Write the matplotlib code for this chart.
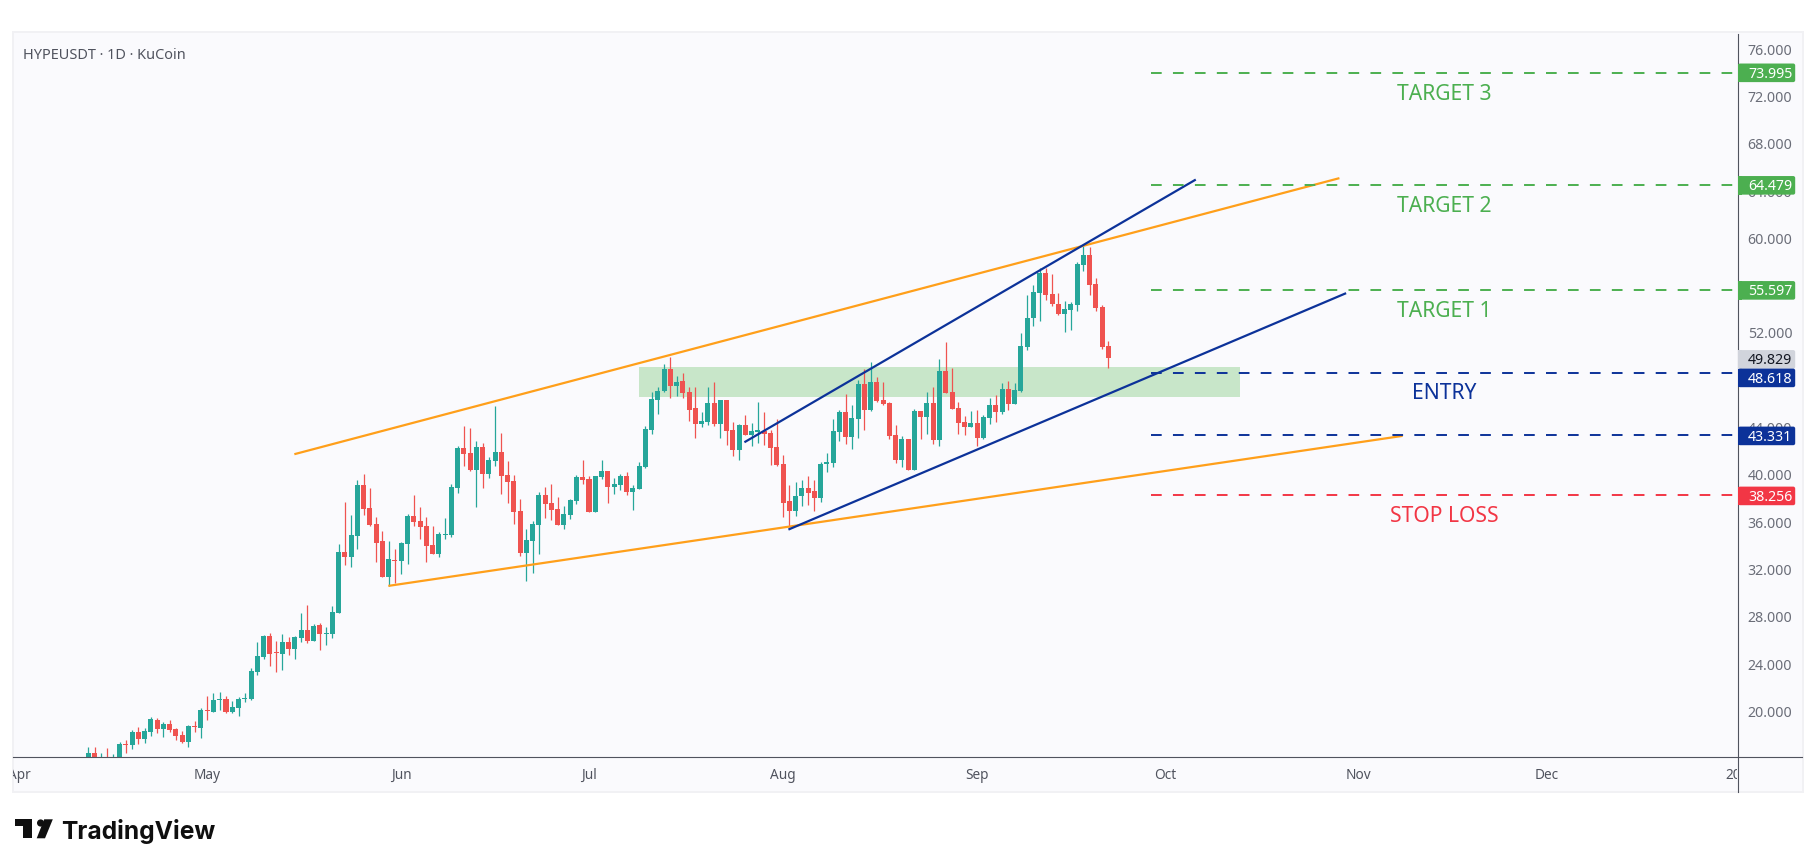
import numpy as np
import matplotlib
matplotlib.use("Agg")
import matplotlib.pyplot as plt
from matplotlib.patches import Rectangle, FancyBboxPatch, Polygon, Circle
from matplotlib.lines import Line2D

plt.rcParams['lines.scale_dashes'] = False
FONT = 'Noto Sans'
plt.rcParams['font.family'] = [FONT, 'DejaVu Sans']

# ---------- data ----------
first_day = 11  # days since 1 April (12 April)
opens = [
 15.9,16.49,15.6,15.9,15.6,15.6,17.25,17.16,18.26,17.67,
 18.26,19.28,18.52,18.94,18.52,18.01,17.42,18.77,18.60,20.12,
 19.95,21.00,21.05,19.95,20.29,21.09,21.05,23.34,24.60,26.38,
 25.03,24.86,25.87,25.28,26.21,26.89,25.96,27.31,26.58,26.55,
 28.32,33.48,33.06,34.83,39.15,37.20,35.85,34.41,31.37,32.80,
 32.72,34.16,36.52,36.10,35.68,34.07,33.31,34.92,34.92,38.89,
 42.27,41.85,40.41,42.35,40.07,41.17,41.93,39.99,39.48,36.94,
 33.39,34.41,35.76,38.30,37.62,37.11,35.76,36.60,37.79,39.82,
 39.65,36.86,39.82,40.33,38.97,39.14,39.90,38.55,38.80,40.66,
 43.79,46.33,47.09,48.95,47.51,47.93,47.00,45.65,44.30,44.47,
 46.07,44.30,46.33,43.79,42.10,44.21,43.37,43.62,43.71,43.54,
 42.35,40.92,37.79,36.94,38.21,38.89,38.63,38.04,40.92,41.00,
 43.62,45.31,43.20,44.72,47.68,45.48,47.85,46.33,46.07,43.37,
 41.26,43.03,40.41,45.40,44.89,46.07,42.95,48.78,47.00,45.65,
 44.47,44.05,44.38,43.12,44.81,45.91,45.31,47.26,45.99,47.09,
 50.81,53.26,55.37,57.06,55.29,54.44,53.60,53.94,54.36,57.74,
 58.59,56.13,54.19,50.89]
closes = [
 16.49,15.7,15.8,15.6,15.9,17.25,17.20,18.26,17.67,18.35,
 19.36,18.52,18.94,18.43,17.93,17.42,18.77,18.72,20.12,20.07,
 20.97,21.05,19.95,20.38,21.05,21.14,23.42,24.69,26.38,24.86,
 24.98,25.87,25.28,26.30,26.89,25.96,27.22,26.55,26.63,28.41,
 33.48,33.06,34.92,39.15,37.12,35.76,34.24,31.37,32.89,32.72,
 34.24,36.52,36.02,35.59,33.99,33.31,35.00,34.97,38.98,42.27,
 41.76,40.41,42.35,40.07,41.25,41.93,39.90,39.39,36.86,33.39,
 34.49,35.84,38.30,37.53,37.03,35.76,36.69,37.87,39.82,39.56,
 36.86,39.90,40.33,38.97,39.23,39.90,38.55,38.89,40.75,43.87,
 46.41,47.09,48.95,47.51,47.85,46.92,45.48,44.30,44.55,46.07,
 44.30,46.33,43.71,42.10,44.21,43.37,43.71,43.79,43.45,42.27,
 40.83,37.62,36.94,38.21,38.89,38.47,38.04,40.92,41.09,43.71,
 45.31,43.20,44.81,47.68,45.48,47.85,46.24,45.99,43.28,41.26,
 43.03,40.41,45.40,44.89,46.07,42.95,48.78,46.92,45.57,44.38,
 44.05,44.38,43.12,44.89,45.91,45.31,47.26,45.99,47.17,50.89,
 53.26,55.46,57.06,55.20,54.44,53.60,54.02,54.44,57.83,58.59,
 56.05,54.11,50.81,49.83]
highs = [
 17.00,17.00,16.49,16.91,16.40,17.42,17.59,18.43,18.69,18.60,
 19.53,19.45,19.11,19.28,18.60,18.35,18.86,19.19,20.29,21.31,
 21.56,21.65,21.31,20.88,21.22,21.56,23.67,25.87,26.46,26.63,
 25.96,26.55,26.30,26.38,28.32,29.00,27.39,27.48,27.14,28.92,
 34.16,37.71,36.61,39.57,40.07,38.89,36.44,35.26,34.41,33.73,
 34.33,36.69,38.30,37.29,36.44,35.68,35.17,36.35,39.23,42.44,
 44.13,43.96,42.86,42.69,41.51,45.82,43.54,41.17,39.99,37.96,
 35.42,36.10,38.55,38.97,39.23,38.13,37.37,37.96,39.99,41.25,
 39.90,39.90,41.25,40.33,39.73,40.07,40.24,39.14,41.09,44.13,
 47.00,47.43,49.37,49.96,48.36,48.61,47.43,47.43,45.31,47.43,
 47.85,46.33,46.33,44.47,44.30,45.06,44.38,46.16,45.31,43.79,
 44.72,41.68,39.14,39.39,39.56,39.90,39.56,41.09,41.85,44.72,
 45.48,46.84,45.91,48.02,48.95,49.54,48.27,47.85,46.16,44.21,
 43.28,43.03,45.57,45.40,47.00,47.43,49.79,51.23,49.03,46.16,
 44.98,45.40,45.48,45.06,46.50,46.75,47.77,47.93,47.77,51.99,
 55.20,56.05,57.49,57.49,56.98,55.37,54.70,54.61,57.99,59.35,
 59.26,56.64,54.36,51.32]
lows = [
 15.5,15.4,15.3,15.2,15.3,15.4,16.49,16.83,17.25,17.33,
 17.93,18.18,17.84,18.26,17.59,17.33,17.00,18.26,17.76,19.28,
 19.95,20.12,19.87,19.87,19.62,20.80,20.97,23.08,24.43,23.84,
 23.34,23.51,24.77,24.43,25.87,25.79,25.96,25.20,25.62,26.21,
 28.32,32.38,32.21,33.73,36.61,35.68,32.64,31.37,30.61,30.86,
 31.62,32.47,35.68,34.58,32.64,33.31,33.06,34.58,34.75,38.47,
 40.75,40.33,37.28,38.89,39.73,40.75,38.38,37.62,35.84,33.14,
 31.03,31.70,33.31,36.35,36.18,35.76,35.42,36.27,37.53,39.23,
 36.86,36.86,39.65,37.62,38.38,38.72,38.30,37.03,38.80,40.58,
 43.45,45.14,47.00,46.50,46.66,46.50,44.55,43.11,44.04,44.21,
 44.13,43.11,42.52,41.59,41.25,43.37,42.44,42.69,42.52,40.83,
 40.75,36.44,35.59,36.52,37.37,37.45,36.94,37.70,40.24,40.66,
 42.86,42.61,42.19,43.12,43.79,45.40,46.16,45.91,43.03,41.00,
 40.66,40.41,40.41,43.03,43.45,42.61,42.44,46.92,45.57,43.45,
 43.37,44.05,42.44,43.03,44.30,44.47,45.14,45.48,45.99,47.00,
 50.56,52.58,53.01,54.78,54.27,53.51,52.08,52.25,53.85,57.23,
 55.20,53.85,50.64,49.03]

month_days = [0, 30, 61, 91, 122, 153, 183, 214, 244, 275]
month_labels = ['Apr', 'May', 'Jun', 'Jul', 'Aug', 'Sep', 'Oct', 'Nov', 'Dec', '2026']
price_ticks = [20, 24, 28, 32, 36, 40, 44, 48, 52, 56, 60, 64, 68, 72, 76]

level_prices = [73.995, 64.479, 55.597, 48.618, 43.331, 38.256]
level_names = ['TARGET 3', 'TARGET 2', 'TARGET 1', 'ENTRY', None, 'STOP LOSS']
last_price = 49.829

orange_upper = ([43.92, 210.9], [41.74, 65.07])
orange_lower = ([58.94, 221.0], [30.61, 43.29])
blue_upper = ([115.83, 187.95], [42.75, 64.95])
blue_lower = ([122.86, 211.97], [35.37, 55.35])
zone_days = (99.0, 195.0)
zone_prices = (46.61, 49.12)
levels_start_day = 180.8

# ---------- colours ----------
UP, DOWN = '#26a69a', '#ef5350'
GREEN, BLUE, RED, ORANGE = '#4caf50', '#0c3299', '#f23645', '#ff9f1a'
level_colors = [GREEN, GREEN, GREEN, BLUE, BLUE, RED]
AXIS = '#50535e'
PANE = '#fafafd'

# ---------- layout ----------
W, H = 1815, 867
L, R, T, B, B2, R2 = 13, 1737, 33, 757, 792, 1802
PX_PER_DAY, X0 = 6.258, 19.46
PX_PER_USD, Y76 = 11.83, 49.0


def rect(l, t, r, b):
    return [l / W, 1 - b / H, (r - l) / W, (b - t) / H]


fig = plt.figure(figsize=((W + 0.2) / 100, (H + 0.2) / 100), dpi=100, facecolor='white')

bg = fig.add_axes([0, 0, 1, 1], zorder=0)
bg.set_xlim(0, W); bg.set_ylim(H, 0); bg.axis('off')
bg.add_patch(Rectangle((L - 0.5, T - 0.5), R2 - L + 1, B2 - T + 1, fc=PANE, ec='#f1f1f4', lw=1.4))

ax = fig.add_axes(rect(L, T, R, B), zorder=1)
ax.patch.set_alpha(0)
xlim = ((L - X0) / PX_PER_DAY, (R - X0) / PX_PER_DAY)
ylim = (76 - (B - Y76) / PX_PER_USD, 76 + (Y76 - T) / PX_PER_USD)
ax.set_xlim(*xlim); ax.set_ylim(*ylim)
for s in ax.spines.values():
    s.set_visible(False)
ax.set_xticks([])
ax.yaxis.tick_right()
ax.set_yticks(price_ticks, [f'{p:.3f}' for p in price_ticks])
ax.tick_params(axis='y', length=0, pad=7.6, labelsize=10.2, labelcolor='#6a6d78')

# zone
ax.add_patch(Rectangle((zone_days[0], zone_prices[0]), zone_days[1] - zone_days[0],
                       zone_prices[1] - zone_prices[0], fc='#c8e6c9', ec='none', zorder=1))

# candles
o, c, hi, lo = map(np.array, (opens, closes, highs, lows))
days = first_day + np.arange(len(o))
colors = np.where(c >= o, UP, DOWN)
ax.vlines(days, lo, hi, colors=colors, lw=0.9, zorder=2)
tops, bottoms = np.maximum(o, c), np.minimum(o, c)
ax.bar(days, np.maximum(tops - bottoms, 0.085), bottom=bottoms, width=0.8,
       color=colors, lw=0, zorder=3)

# horizontal levels
dash = (0, (7.7, 8.1))
for p, col in zip(level_prices, level_colors):
    ax.plot([levels_start_day, xlim[1]], [p, p], color=col, lw=1.4, ls=dash,
            dash_capstyle='butt', zorder=5)

# trend lines
for (xs, ys), col in zip((orange_upper, orange_lower, blue_upper, blue_lower),
                         (ORANGE, ORANGE, BLUE, BLUE)):
    ax.plot(xs, ys, color=col, lw=1.6, solid_capstyle='butt', zorder=4)

# time axis
tax = fig.add_axes(rect(L, B, R, B2), zorder=2)
tax.set_xlim(*xlim); tax.set_ylim(B2, B); tax.axis('off')
for d, lab in zip(month_days, month_labels):
    tax.text(d, 775, lab, ha='center', va='center', fontsize=9.8, color='#50535e',
             fontweight='bold' if lab == '2026' else 'normal', clip_on=True)

# overlay in pixels
ov = fig.add_axes([0, 0, 1, 1], zorder=3)
ov.set_xlim(0, W); ov.set_ylim(H, 0); ov.axis('off'); ov.patch.set_alpha(0)
ov.add_line(Line2D([R + 0.5, R + 0.5], [T + 1, B2], color=AXIS, lw=0.8))
ov.add_line(Line2D([L, R2], [B + 0.5, B + 0.5], color=AXIS, lw=0.8))

ov.text(23, 55.5, 'HYPEUSDT · 1D · KuCoin', ha='left', va='center', fontsize=10.45, color='#50535e')

label_y = [94, 206, 311, 393, None, 516]
for name, y, col in zip(level_names, label_y, level_colors):
    if name:
        ov.text(1443.7, y, name, ha='center', va='center', fontsize=15.2, color=col)


def badge(cy, text, fc, tc='white'):
    ov.add_patch(FancyBboxPatch((R + 1, cy - 9.3), 57, 18.6, boxstyle='round,pad=0,rounding_size=2',
                                fc=fc, ec='none', zorder=3))
    ov.add_patch(Rectangle((R + 1, cy - 9.3), 4, 18.6, fc=fc, ec='none', zorder=3))
    ov.text(1770, cy + 1.3, text, ha='center', va='center', fontsize=10.2, color=tc,
            fontweight='medium', zorder=4)


badge(359.5, f'{last_price:.3f}', '#d1d4dc', '#131722')
badge_y = [73, 185.5, 290.5, 378, 436, 496]
for p, col, cy in zip(level_prices, level_colors, badge_y):
    badge(cy, f'{p:.3f}', col)

# logo
LOGO = '#0f0f0f'
ov.add_patch(Polygon([(15, 819.3), (31.7, 819.3), (31.7, 838.3), (22.7, 838.3), (22.7, 826.5), (15, 826.5)],
                     closed=True, fc=LOGO, ec='none'))
ov.add_patch(Circle((40.6, 823), 3.6, fc=LOGO, ec='none'))
ov.add_patch(Polygon([(44.2, 819.3), (52.8, 819.3), (45, 838.3), (36.7, 838.3)], closed=True, fc=LOGO, ec='none'))
ov.text(61.5, 831.5, 'TradingView', ha='left', va='center', fontsize=17.7, fontweight='bold',
        color=LOGO, family='Inter')

fig.savefig('out.png', dpi=100, facecolor='white')
